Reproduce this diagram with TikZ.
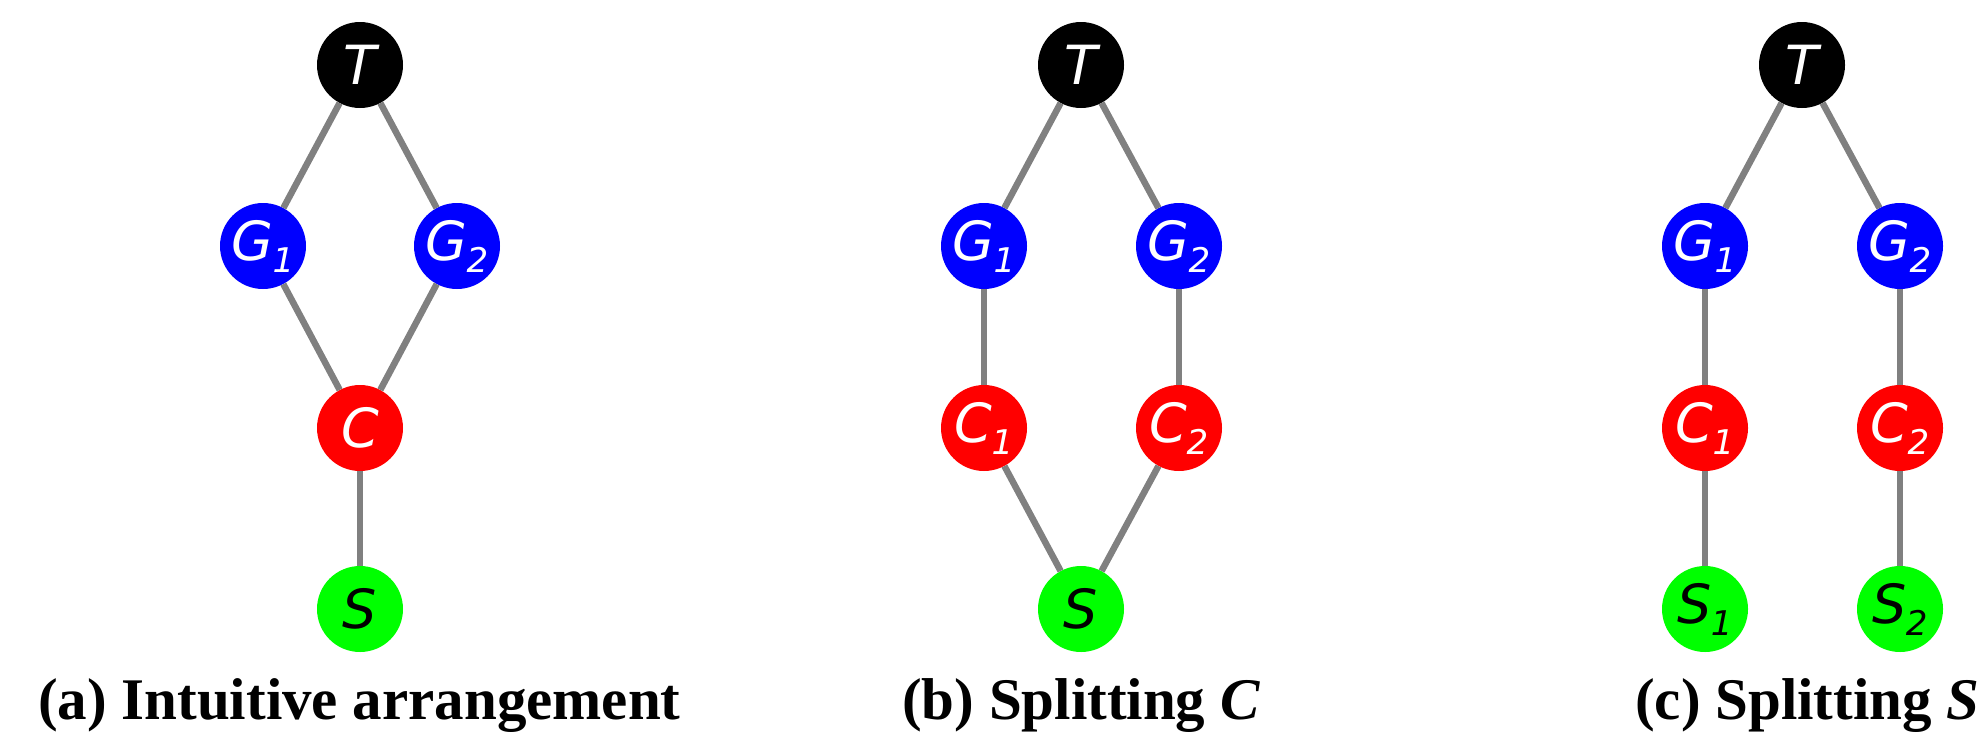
\documentclass[tikz,border=0pt]{standalone}
\usepackage{fontspec}
\newfontfamily\lblfont{DejaVu Sans}
\newfontfamily\capfont{Liberation Serif}
\newcommand{\lbl}[2]{#1\kern-1pt\raisebox{-12pt}{\fontsize{34}{34}\selectfont #2}}
\definecolor{edgegray}{HTML}{808080}
\definecolor{nblue}{HTML}{0000FF}
\definecolor{nred}{HTML}{FF0000}
\definecolor{ngreen}{HTML}{00FF00}
\begin{document}
\begin{tikzpicture}[x=1pt,y=-1pt,
  vtx/.style={circle,minimum size=86pt,inner sep=0pt,font=\lblfont\itshape\fontsize{54}{54}\selectfont},
  tnode/.style={vtx,fill=black,text=white},
  gnode/.style={vtx,fill=nblue,text=white},
  cnode/.style={vtx,fill=nred,text=white},
  snode/.style={vtx,fill=ngreen,text=black},
  edge/.style={draw=edgegray,line width=6.5pt},
  captext/.style={anchor=base west,inner sep=0pt,font=\capfont\bfseries\fontsize{59}{59}\selectfont}]
\useasboundingbox (0,0) rectangle (1977,745);
% (a)
\node[tnode] (aT) at (360,65) {T};
\node[gnode] (aG1) at (263,246) {\lbl{G}{1}};
\node[gnode] (aG2) at (457,246) {\lbl{G}{2}};
\node[cnode] (aC) at (360,428) {C};
\node[snode] (aS) at (360,609) {S};
\draw[edge] (aT) -- (aG1);
\draw[edge] (aT) -- (aG2);
\draw[edge] (aG1) -- (aC);
\draw[edge] (aG2) -- (aC);
\draw[edge] (aC) -- (aS);
\node[captext] (capa) at (38,719) {(a) Intuitive arrangement};
% (b)
\node[tnode] (bT) at (1081,65) {T};
\node[gnode] (bG1) at (984,246) {\lbl{G}{1}};
\node[gnode] (bG2) at (1179,246) {\lbl{G}{2}};
\node[cnode] (bC1) at (984,428) {\lbl{C}{1}};
\node[cnode] (bC2) at (1179,428) {\lbl{C}{2}};
\node[snode] (bS) at (1081,609) {S};
\draw[edge] (bT) -- (bG1);
\draw[edge] (bT) -- (bG2);
\draw[edge] (bG1) -- (bC1);
\draw[edge] (bG2) -- (bC2);
\draw[edge] (bC1) -- (bS);
\draw[edge] (bC2) -- (bS);
\node[captext] (capb) at (902,719) {(b) Splitting \textit{C}};
% (c)
\node[tnode] (cT) at (1802,65) {T};
\node[gnode] (cG1) at (1705,246) {\lbl{G}{1}};
\node[gnode] (cG2) at (1900,246) {\lbl{G}{2}};
\node[cnode] (cC1) at (1705,428) {\lbl{C}{1}};
\node[cnode] (cC2) at (1900,428) {\lbl{C}{2}};
\node[snode] (cS1) at (1705,609) {\lbl{S}{1}};
\node[snode] (cS2) at (1900,609) {\lbl{S}{2}};
\draw[edge] (cT) -- (cG1);
\draw[edge] (cT) -- (cG2);
\draw[edge] (cG1) -- (cC1);
\draw[edge] (cG2) -- (cC2);
\draw[edge] (cC1) -- (cS1);
\draw[edge] (cC2) -- (cS2);
\node[captext] (capc) at (1635,719) {(c) Splitting \textit{S}};
\end{tikzpicture}
\end{document}
